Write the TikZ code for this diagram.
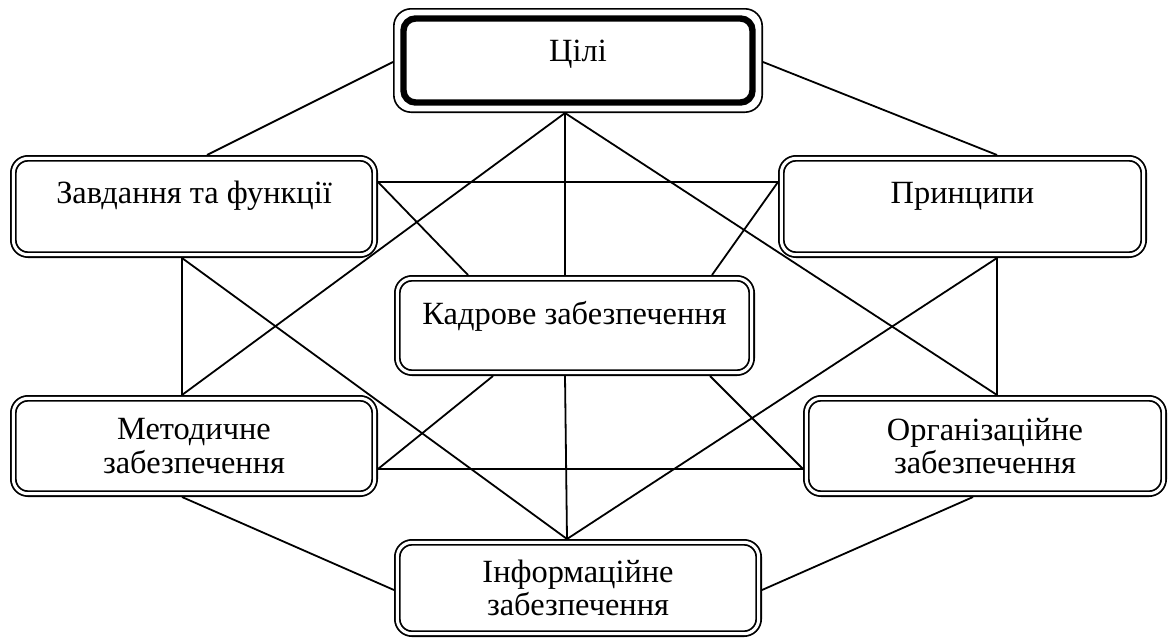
\documentclass[tikz,border=0pt]{standalone}
\usepackage{fontspec}
\setmainfont{Liberation Serif}
\usetikzlibrary{calc}
\begin{document}
\begin{tikzpicture}[x=0.75pt,y=-0.75pt,
  txt/.style={align=center, font=\fontsize{24.3}{25}\selectfont, inner sep=0pt},
  one/.style={text height=17pt, text depth=#1},
  box/.style={txt, draw, double, line width=1.35pt, double distance=2.3pt,
    rounded corners=11pt, outer sep=2.5pt},
  sz/.style 2 args={minimum width={#1*0.75pt-5pt}, minimum height={#2*0.75pt-5pt}},
  topbox/.style={txt, draw, line width=1.2pt, rounded corners=13pt, outer sep=0.6pt,
    minimum width={370*0.75pt-1.2pt}, minimum height={105*0.75pt-1.2pt}},
  thick/.style={line width=4.8pt, rounded corners=9pt},
  conn/.style={line width=1.35pt}]
\useasboundingbox (0,0) rectangle (1169,639);

\node[topbox, one=14.8pt] (cil) at (578,60.5) {Цілі};
\draw[thick] ($(cil.north west)+(10.5,10.5)$) rectangle ($(cil.south east)+(-10.5,-10.5)$);

\node[box, sz={368}{103}, one=20.8pt] (zav) at (194,206.5) {Завдання та функції};
\node[box, sz={369}{103}, one=20.8pt] (pry) at (962.5,206.5) {Принципи};
\node[box, sz={361}{101}, one=19.2pt] (kad) at (574.5,325.5) {Кадрове забезпечення};
\node[box, sz={368}{102}] (met) at (194,446) {Методичне\\забезпечення};
\node[box, sz={364}{102}] (org) at (985,446) {Організаційне\\забезпечення};
\node[box, sz={368}{98}] (inf) at (578,588) {Інформаційне\\забезпечення};

% attachment points
\coordinate (cilL) at ($(cil.west)+(0,1.5)$);
\coordinate (cilR) at ($(cil.east)+(0,1.5)$);
\coordinate (cilB) at ($(cil.south)+(-13,0)$);
\coordinate (zavT) at ($(zav.north)+(13,0)$);
\coordinate (zavR) at ($(zav.east)+(0,-24.5)$);
\coordinate (zavB) at ($(zav.south)+(-12,0)$);
\coordinate (pryT) at ($(pry.north)+(34.5,0)$);
\coordinate (pryL) at ($(pry.west)+(0,-24.5)$);
\coordinate (pryB) at ($(pry.south)+(34.5,0)$);
\coordinate (kadT1) at ($(kad.north)+(-106.5,0)$);
\coordinate (kadT2) at ($(kad.north)+(-9.5,0)$);
\coordinate (kadT3) at ($(kad.north)+(137.5,0)$);
\coordinate (kadB1) at ($(kad.south)+(-81.5,0)$);
\coordinate (kadB2) at ($(kad.south)+(-9.5,0)$);
\coordinate (kadB3) at ($(kad.south)+(135.5,0)$);
\coordinate (metT) at ($(met.north)+(-12,0)$);
\coordinate (metR) at ($(met.east)+(0,23)$);
\coordinate (metB) at ($(met.south)+(-12,0)$);
\coordinate (orgT) at ($(org.north)+(12,0)$);
\coordinate (orgL) at ($(org.west)+(0,23)$);
\coordinate (orgB) at ($(org.south)+(-12,0)$);
\coordinate (infT) at ($(inf.north)+(-11,0)$);
\coordinate (infL) at ($(inf.west)+(0,2)$);
\coordinate (infR) at ($(inf.east)+(0,2)$);

\draw[conn] (cilL) -- (zavT);
\draw[conn] (cilR) -- (pryT);
\draw[conn] (cilB) -- (kadT2);
\draw[conn] (cilB) -- (metT);
\draw[conn] (cilB) -- (orgT);
\draw[conn] (zavR) -- (pryL);
\draw[conn] (zavR) -- (kadT1);
\draw[conn] (pryL) -- (kadT3);
\draw[conn] (zavB) -- (metT);
\draw[conn] (zavB) -- (infT);
\draw[conn] (pryB) -- (orgT);
\draw[conn] (pryB) -- (infT);
\draw[conn] (kadB1) -- (metR);
\draw[conn] (kadB2) -- (infT);
\draw[conn] (kadB3) -- (orgL);
\draw[conn] (metR) -- (orgL);
\draw[conn] (metB) -- (infL);
\draw[conn] (orgB) -- (infR);
\end{tikzpicture}
\end{document}
